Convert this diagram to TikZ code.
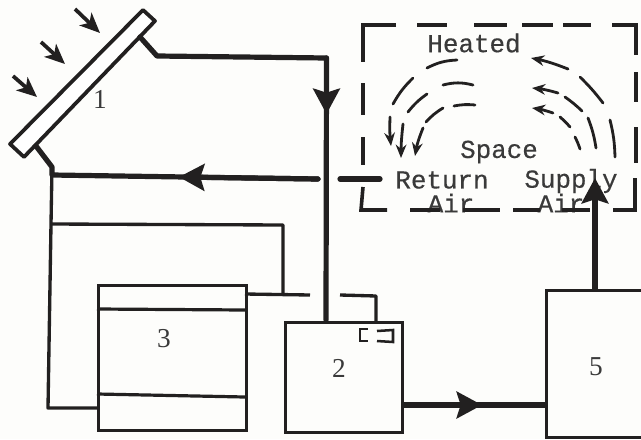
\documentclass[tikz,border=0pt]{standalone}
\usepackage{fontspec}
\setmainfont{Liberation Serif}
\newfontfamily\typed[FakeBold=0.4]{Liberation Mono}
\usetikzlibrary{arrows.meta}
\definecolor{ink}{HTML}{222020}
\definecolor{paper}{HTML}{FDFDFB}
\definecolor{graytext}{HTML}{3A3A3A}
\tikzset{
  thick pipe/.style={draw=ink,line width=3.9pt,line cap=round,line join=round},
  thin pipe/.style={draw=ink,line width=2.5pt,line join=round},
  unit/.style={draw=ink,line width=2.6pt,minimum width=#1,inner sep=0pt,anchor=north west},
  numlabel/.style={font=\fontsize{20.5}{22}\selectfont,text=graytext,inner sep=0pt},
  typedlabel/.style={font=\typed\fontsize{19.4}{20}\selectfont,text=graytext,inner sep=0pt},
  wall/.style={draw=ink,line width=2.7pt},
  flow/.style={draw=ink,line width=2.1pt,line cap=round},
  flowtip/.style={flow,-{Stealth[length=10pt,width=8pt]}},
  sun/.style={draw=ink,line width=2.8pt,-{Stealth[length=15pt,width=13pt,inset=4pt]}},
  bigtip/.style={thick pipe,-{Stealth[length=19pt,width=20pt,inset=3pt]}}
}
\begin{document}
\begin{tikzpicture}[x=0.75pt,y=-0.75pt]
\useasboundingbox (0,0) rectangle (641,439);
\fill[paper] (0,0) rectangle (641,439);
% collector
\coordinate (ca) at (143,10);
\coordinate (cb) at (155,21);
\coordinate (cc) at (24,157);
\coordinate (cd) at (10,144);
\draw[draw=ink,line width=2.8pt,line join=round,fill=white] (ca) -- (cb) -- (cc) -- (cd) -- cycle;
% units
\node[unit=148*0.75pt,minimum height=145*0.75pt] (u3) at (97,284) {};
\node[unit=117*0.75pt,minimum height=110*0.75pt] (u2) at (284,321) {};
\node[unit=96*0.75pt,minimum height=147*0.75pt] (u5) at (545,289) {};
\draw[draw=ink,line width=2.4pt] (97,309) coordinate (l1) -- (245,310) coordinate (r1);
\draw[draw=ink,line width=2.4pt] (97,394) coordinate (l2) -- (245,397) coordinate (r2);
% labels
\node[numlabel] (n1) at (100,99) {1};
\node[numlabel] (n3) at (164,339) {3};
\node[numlabel] (n2) at (339,368) {2};
\node[numlabel] (n5) at (596,367) {5};
\node[typedlabel] (heated) at (474,43) {Heated};
\node[typedlabel] (space) at (499,152) {Space};
\node[typedlabel] (ret) at (442,180) {Return};
\node[typedlabel] (retair) at (451,203) {Air};
\node[typedlabel] (sup) at (571,181) {Supply};
\node[typedlabel] (supair) at (561,203) {Air};
% damper symbol in unit 2
\draw[draw=ink,line width=1.9pt] (368,329) coordinate (d1) -- (360,329) -- (360,341) -- (368,341);
\draw[draw=ink,line width=1.9pt] (377,331) coordinate (d2) -- (393,330) -- (393,342) -- (377,341);
% room walls (dashed by hand)
\draw[wall] (396,25) -- (363,25) -- (363,62);
\draw[wall] (363,83) -- (363,115);
\draw[wall] (363,137) -- (363,165);
\draw[wall] (363,187) -- (361,210) -- (387,210);
\draw[wall] (417,25) -- (447,25);
\draw[wall] (474,25) -- (507,25);
\draw[wall] (522,25) -- (553,25);
\draw[wall] (563,25) -- (591,25);
\draw[wall] (612,25) -- (636,25) -- (636,55);
\draw[wall] (636,72) -- (636,102);
\draw[wall] (636,127) -- (636,163);
\draw[wall] (635,178) -- (635,210) -- (613,210);
\draw[wall] (410,210) -- (440,210);
\draw[wall] (463,210) -- (500,210);
\draw[wall] (513,210) -- (540,210);
\draw[wall] (562,210) -- (590,210);
% air flow left
\draw[flow] (427,68) to[bend left=12] (457,60);
\draw[flow] (393,104) to[bend left=8] (413,78);
\draw[flowtip] (390,117) to[bend right=4] (391,146);
\draw[flow] (443,85) to[bend left=14] (473,85);
\draw[flow] (408,112) to[bend left=8] (427,94);
\draw[flowtip] (403,124) to[bend right=3] (401,158);
\draw[flow] (454,106) to[bend left=8] (475,105);
\draw[flow] (426,122) to[bend left=8] (443,108);
\draw[flowtip] (423,128) to[bend right=6] (415,156);
% air flow right
\draw[flowtip] (568,69) to[bend right=5] (531,58);
\draw[flow] (580,77) to[bend left=4] (603,103);
\draw[flow] (610,120) to[bend left=6] (615,157);
\draw[flowtip] (558,93) to[bend right=5] (532,88);
\draw[flow] (565,97) to[bend left=4] (582,111);
\draw[flow] (588,118) to[bend left=6] (596,148);
\draw[flowtip] (553,113) to[bend right=5] (532,108);
\draw[flow] (560,117) to[bend left=4] (570,127);
\draw[flow] (575,137) to[bend left=4] (580,149);
% sun arrows
\coordinate (s1) at (75,9); \coordinate (t1) at (100,33);
\coordinate (s2) at (41,42); \coordinate (t2) at (65,64);
\coordinate (s3) at (13,76); \coordinate (t3) at (37,97);
\draw[sun] (s1) -- (t1);
\draw[sun] (s2) -- (t2);
\draw[sun] (s3) -- (t3);
% pipes
\coordinate (p1) at (140,37);
\coordinate (p2) at (157,56);
\coordinate (p3) at (326.5,58);
\coordinate (ptip) at (326.5,114);
\draw[thick pipe] (p1) -- (p2) -- (p3) -- (326,320);
\draw[bigtip] (p3) -- (ptip);
\coordinate (q1) at (36,146);
\coordinate (q2) at (52,167);
\coordinate (q3) at (52,175);
\coordinate (q4) at (318,179);
\coordinate (qtip) at (179,177);
\draw[thick pipe] (q1) -- (q2) -- (q3) -- (q4);
\draw[bigtip] (q4) -- (qtip);
\coordinate (q5) at (340,179);
\coordinate (q6) at (380,179);
\draw[thick pipe] (q5) -- (q6);
\draw[thin pipe] (q2) -- (51,224) -- (48,408) -- (u3.west |- 0,408);
\draw[thin pipe] (51,224) -- (283,225) -- (283,295);
\draw[thin pipe] (245,294) -- (310,295);
\draw[thin pipe] (340,295) -- (376,296) -- (376,321);
\coordinate (stip) at (595,178);
\draw[thick pipe] (u5.north -| 595,0) -- (595,200);
\draw[bigtip] (u5.north -| 595,0) -- (stip);
\coordinate (etip) at (482,405);
\draw[thick pipe] (u2.east |- 0,405) -- (u5.west |- 0,405);
\draw[bigtip] (u2.east |- 0,405) -- (etip);
\end{tikzpicture}
\end{document}
